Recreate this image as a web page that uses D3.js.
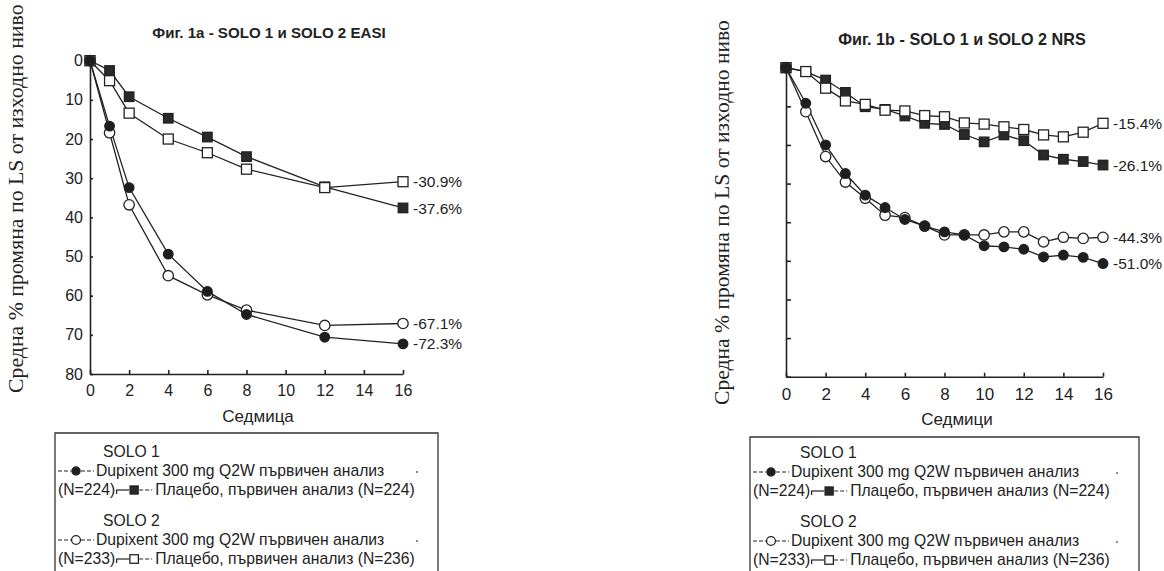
<!DOCTYPE html>
<html><head><meta charset="utf-8">
<script src="https://cdn.jsdelivr.net/npm/d3@7"></script>
<style>
body{margin:0;background:#fff}
svg{display:block}
text{font-family:"Liberation Sans",Arial,sans-serif;fill:#222}
</style></head><body>
<svg id="c" width="1164" height="571"></svg>
<script>
// ---------- DATA ----------
const weeksEASI = [0, 1, 2, 4, 6, 8, 12, 16];
const easiDupi1 = [0, 16.7, 32.4, 49.4, 58.9, 64.8, 70.6, 72.3];
const easiPlac1 = [0, 2.5, 9.2, 14.7, 19.5, 24.5, 32.2, 37.6];
const easiDupi2 = [0, 18.4, 36.8, 54.9, 59.8, 63.7, 67.6, 67.1];
const easiPlac2 = [0, 5.1, 13.4, 20.0, 23.5, 27.7, 32.4, 30.9];
const easiEndLabels = ["-72.3%", "-37.6%", "-67.1%", "-30.9%"];

const weeksNRS = [0, 1, 2, 3, 4, 5, 6, 7, 8, 9, 10, 11, 12, 13, 14, 15, 16];
const nrsDupi1 = [0, 9.2, 20.0, 27.4, 33.0, 36.2, 39.3, 41.0, 42.5, 43.3, 46.1, 46.4, 47.0, 49.0, 48.5, 49.1, 50.7];
const nrsPlac1 = [0, 1.0, 3.2, 6.4, 10.1, 10.8, 12.5, 14.4, 14.7, 17.3, 19.2, 17.4, 18.9, 22.6, 23.7, 24.3, 25.2];
const nrsDupi2 = [0, 11.4, 23.0, 29.6, 33.8, 38.2, 38.8, 41.0, 43.3, 43.3, 43.3, 42.5, 42.5, 45.1, 43.9, 44.2, 43.9];
const nrsPlac2 = [0, 1.0, 5.3, 8.6, 9.5, 11.0, 11.2, 12.4, 12.7, 14.3, 14.6, 15.3, 16.0, 17.4, 17.9, 16.7, 14.4];
const nrsEndLabels = ["-51.0%", "-26.1%", "-44.3%", "-15.4%"];

const xTicks = [0, 2, 4, 6, 8, 10, 12, 14, 16];
const yTicks = [0, 10, 20, 30, 40, 50, 60, 70, 80];

const titles = ["Фиг. 1а - SOLO 1 и SOLO 2 EASI", "Фиг. 1b - SOLO 1 и SOLO 2 NRS"];
const xTitles = ["Седмица", "Седмици"];
const yTitle = "Средна % промяна по LS от изходно ниво";

const legendHeads = ["SOLO 1", "SOLO 2"];
const legendDupiText = "Dupixent 300 mg Q2W първичен анализ";
const legendDupiN = ["(N=224)", "(N=233)"];
const legendPlacText = ["Плацебо, първичен анализ (N=224)", "Плацебо, първичен анализ (N=236)"];

// series styles: marker, filled
const seriesStyle = [
  {marker: "circle", filled: true},   // Dupixent SOLO1
  {marker: "square", filled: true},   // Placebo SOLO1
  {marker: "circle", filled: false},  // Dupixent SOLO2
  {marker: "square", filled: false}   // Placebo SOLO2
];

const svg = d3.select("#c");
const INK = "#222";

function marker(g, type, filled, cx, cy, scale) {
  scale = scale || 1;
  if (type === "circle") {
    g.append("circle").attr("cx", cx).attr("cy", cy)
      .attr("r", (filled ? 4.8 : 5.2) * scale)
      .attr("fill", filled ? "#1e1e1e" : "#fff")
      .attr("stroke", INK).attr("stroke-width", 1.3);
  } else {
    const s = (filled ? 9.5 : 10) * scale;
    g.append("rect").attr("x", cx - s / 2).attr("y", cy - s / 2)
      .attr("width", s).attr("height", s)
      .attr("fill", filled ? "#2a2a2a" : "#fff")
      .attr("stroke", INK).attr("stroke-width", 1.3);
  }
}

function panel(cfg) {
  const x = d3.scaleLinear().domain([0, 16]).range(cfg.xr);
  const y = d3.scaleLinear().domain([0, 80]).range(cfg.yr);
  const g = svg.append("g");

  // axes
  const ax = g.append("g").attr("transform", `translate(0,${cfg.yr[1]})`)
    .call(d3.axisBottom(x).tickValues(xTicks).tickSizeInner(-4).tickSizeOuter(0).tickPadding(cfg.xPad));
  ax.selectAll("text").style("font-size", cfg.tickFont + "px").attr("fill", INK);
  const ay = g.append("g").attr("transform", `translate(${cfg.xr[0]},0)`)
    .call(d3.axisLeft(y).tickValues(yTicks).tickSizeInner(cfg.yTick).tickSizeOuter(0).tickPadding(7)
      .tickFormat(cfg.yLabels ? d3.format("d") : () => ""));
  ay.selectAll("text").style("font-size", cfg.tickFont + "px").attr("fill", INK);
  g.selectAll(".domain, .tick line").attr("stroke", INK).attr("stroke-width", 1.6);

  // lines
  const line = d3.line().x(d => x(d[0])).y(d => y(d[1]));
  cfg.series.forEach(vals => {
    g.append("path").datum(cfg.weeks.map((w, i) => [w, vals[i]]))
      .attr("d", line).attr("fill", "none").attr("stroke", INK).attr("stroke-width", 1.3);
  });
  // markers (placebo first, open on top)
  [1, 3, 2, 0].forEach(si => {
    const st = seriesStyle[si];
    cfg.weeks.forEach((w, i) => marker(g, st.marker, st.filled, x(w), y(cfg.series[si][i])));
  });
  // end labels
  cfg.series.forEach((vals, si) => {
    g.append("text").attr("x", x(16) + 10).attr("y", y(vals[vals.length - 1]) + 1.5)
      .attr("dominant-baseline", "middle").style("font-size", "15.5px")
      .text(cfg.endLabels[si]);
  });

  // title
  g.append("text").attr("x", cfg.titleX).attr("y", cfg.titleY).attr("text-anchor", "middle")
    .style("font-size", cfg.titleFont + "px").style("font-weight", "bold").attr("fill", "#111").text(cfg.title);
  // x title
  g.append("text").attr("x", cfg.xTitleX).attr("y", cfg.yr[1] + 48).attr("text-anchor", "middle")
    .style("font-size", "17px").text(cfg.xTitle);
  // y title (anchored at its bottom end)
  g.append("text").attr("transform", `translate(${cfg.yTitleX},${cfg.yTitleY}) rotate(-90)`)
    .attr("text-anchor", "start").style("font-family", '"Liberation Serif","Times New Roman",serif')
    .style("font-size", cfg.yTitleFont + "px").attr("fill", "#111").text(yTitle);

  // legend
  const L = cfg.legend;
  const lg = svg.append("g");
  lg.append("path").attr("d", `M${L.x},571 V${L.y} H${L.x2} V571`)
    .attr("fill", "none").attr("stroke", "#333").attr("stroke-width", 1.3);
  const fs = "15.7px";
  function txt(xp, yp, s) {
    const t = lg.append("text").attr("x", xp).attr("y", yp).style("font-size", fs).text(s);
    return t.node().getComputedTextLength();
  }
  function sym(si, xp, yp, hook) {
    const st = seriesStyle[si];
    const w = 36;
    const mid = xp + w / 2;
    lg.append("line").attr("x1", xp).attr("x2", mid - 5).attr("y1", yp).attr("y2", yp)
      .attr("stroke", INK).attr("stroke-width", 1.2).attr("stroke-dasharray", hook ? null : "4,2");
    lg.append("line").attr("x1", mid + 5).attr("x2", xp + w).attr("y1", yp).attr("y2", yp)
      .attr("stroke", INK).attr("stroke-width", 1.2).attr("stroke-dasharray", "4,2");
    if (hook) {
      lg.append("line").attr("x1", xp + 0.5).attr("x2", xp + 0.5).attr("y1", yp).attr("y2", yp + 4)
        .attr("stroke", INK).attr("stroke-width", 1.2);
    }
    marker(lg, st.marker, st.filled, mid, yp, 0.85);
    return w;
  }
  [0, 1].forEach(gi => {
    const b = L.rows[gi * 3];
    txt(L.x + L.headDx, b, legendHeads[gi]);
    const b2 = L.rows[gi * 3 + 1];
    let cx = L.x + 3;
    cx += sym(gi === 0 ? 0 : 2, cx, b2 - 5, false) + 2;
    txt(cx, b2, legendDupiText);
    lg.append("circle").attr("cx", L.dotX).attr("cy", b2 - 4).attr("r", 0.9).attr("fill", "#555");
    const b3 = L.rows[gi * 3 + 2];
    cx = L.x + 3;
    cx += txt(cx, b3, legendDupiN[gi]) + 1;
    cx += sym(gi === 0 ? 1 : 3, cx, b3 - 5, true) + 3;
    txt(cx, b3, legendPlacText[gi]);
  });
}

panel({
  xr: [90, 403], yr: [60.7, 374], weeks: weeksEASI,
  series: [easiDupi1, easiPlac1, easiDupi2, easiPlac2], endLabels: easiEndLabels,
  yLabels: true, yTick: -3, tickFont: 16, xPad: 11,
  title: titles[0], titleX: 269, titleY: 37.5, titleFont: 15.1,
  xTitle: xTitles[0], xTitleX: 258,
  yTitleX: 23, yTitleY: 393, yTitleFont: 21.8,
  legend: {x: 55, x2: 438, y: 433, headDx: 48, dotX: 417, rows: [457, 476, 495, 526, 545, 564]}
});
panel({
  xr: [786, 1103], yr: [67.7, 376.7], weeks: weeksNRS,
  series: [nrsDupi1, nrsPlac1, nrsDupi2, nrsPlac2], endLabels: nrsEndLabels,
  yLabels: false, yTick: -5, tickFont: 17, xPad: 11,
  title: titles[1], titleX: 962, titleY: 45, titleFont: 16.2,
  xTitle: xTitles[1], xTitleX: 957,
  yTitleX: 729, yTitleY: 405, yTitleFont: 21.6,
  legend: {x: 750, x2: 1139, y: 437, headDx: 50, dotX: 1117, rows: [458, 477, 496, 527, 546, 565]}
});
</script>
</body></html>
